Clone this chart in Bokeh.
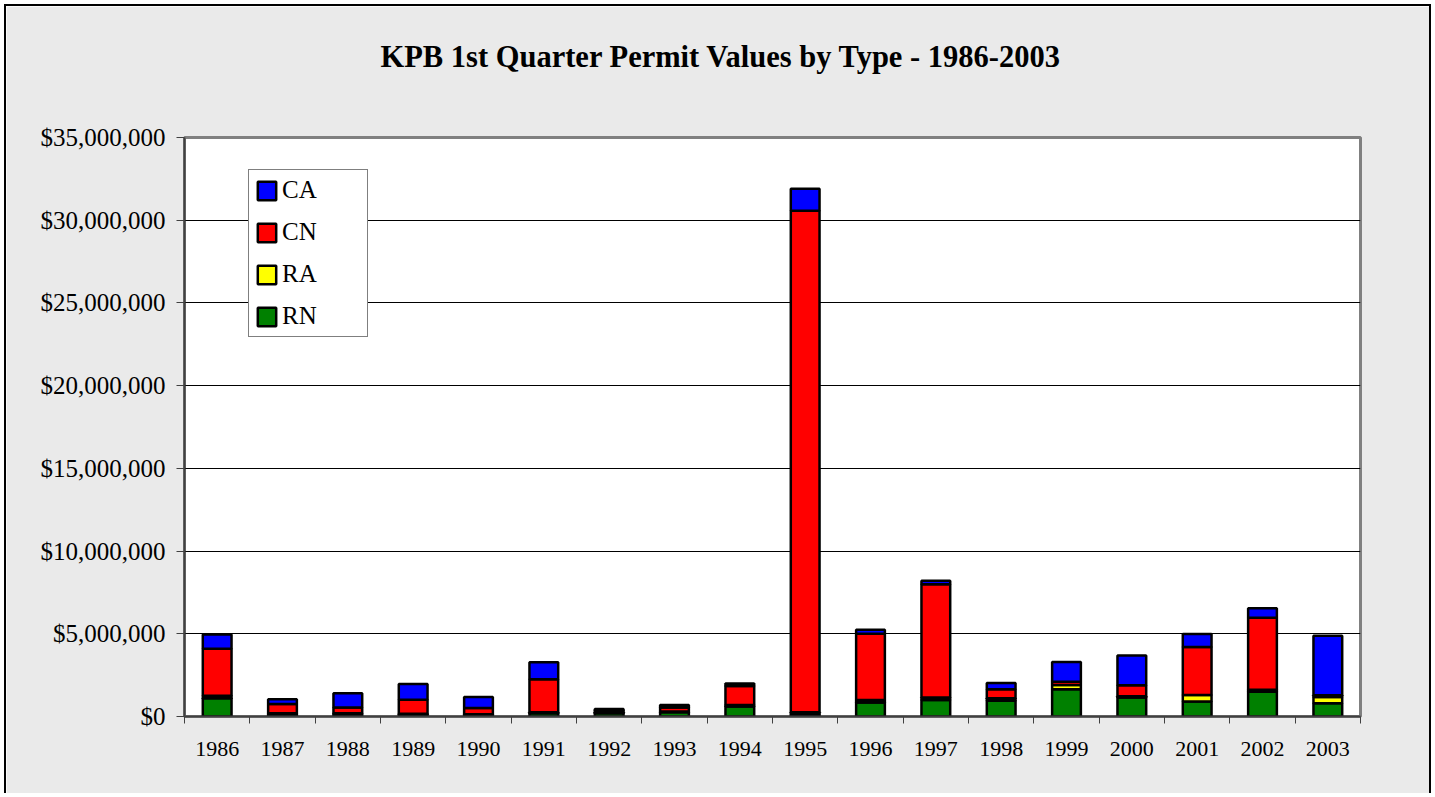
from bokeh.plotting import figure
from bokeh.models import (Range1d, FixedTicker, SingleIntervalTicker, NumeralTickFormatter,
                          Legend, LegendItem, Title, ColumnDataSource)
from bokeh.embed import file_html
from bokeh.resources import INLINE

years = [1986, 1987, 1988, 1989, 1990, 1991, 1992, 1993, 1994, 1995,
         1996, 1997, 1998, 1999, 2000, 2001, 2002, 2003]
RN = [1100000, 150000, 150000, 120000, 100000, 200000, 200000, 250000, 600000, 150000,
      850000, 1000000, 950000, 1650000, 1150000, 900000, 1500000, 800000]
RA = [150000, 50000, 50000, 50000, 30000, 50000, 50000, 50000, 100000, 100000,
      150000, 150000, 150000, 250000, 70000, 400000, 120000, 380000]
CN = [2850000, 550000, 350000, 850000, 380000, 2000000, 100000, 250000, 1150000, 30320000,
      4000000, 6850000, 550000, 200000, 670000, 2900000, 4350000, 100000]
CA = [850000, 300000, 850000, 950000, 670000, 1030000, 100000, 150000, 150000, 1330000,
      250000, 200000, 370000, 1200000, 1800000, 780000, 570000, 3600000]
series = ["RN", "RA", "CN", "CA"]
colors = ["#008000", "#FFFF00", "#FF0000", "#0000FF"]
title_text = "KPB 1st Quarter Permit Values by Type - 1986-2003"

xs = list(range(len(years)))
source = ColumnDataSource(dict(x=xs, RN=RN, RA=RA, CN=CN, CA=CA))

FONT = "Liberation Serif"

p = figure(width=1423, height=787,
           x_range=Range1d(-0.5, len(years) - 0.5), y_range=Range1d(0, 35000000),
           output_backend="svg", toolbar_location=None,
           min_border_left=178, min_border_right=73, min_border_top=131, min_border_bottom=79)
p.styles = {"border-top": "2px solid black", "border-left": "2px solid black",
            "border-right": "2px solid black", "margin-left": "4px", "margin-top": "4px",
            "box-sizing": "content-box"}

p.background_fill_color = "white"
p.border_fill_color = "#EAEAEA"
p.outline_line_color = "#808080"
p.outline_line_width = 3

renderers = p.vbar_stack(series, x="x", width=0.44, source=source, color=colors,
                         line_color="black", line_width=2.5)

# x axis
xa = p.xaxis[0]
xa.ticker = FixedTicker(ticks=xs, minor_ticks=[i - 0.5 for i in range(len(years) + 1)])
xa.major_label_overrides = {i: str(y) for i, y in zip(xs, years)}
xa.major_tick_out = 0
xa.major_tick_in = 0
xa.minor_tick_out = 7
xa.minor_tick_in = 0
xa.minor_tick_line_color = "#404040"
xa.minor_tick_line_width = 1
xa.axis_line_color = "#404040"
xa.axis_line_width = 2
xa.major_label_text_font = FONT
xa.major_label_text_font_size = "22px"
xa.major_label_text_color = "black"
xa.major_label_standoff = 18

# y axis
ya = p.yaxis[0]
ya.ticker = SingleIntervalTicker(interval=5000000, num_minor_ticks=0)
ya.formatter = NumeralTickFormatter(format="$0,0")
ya.major_tick_out = 8
ya.major_tick_in = 0
ya.major_tick_line_color = "#404040"
ya.minor_tick_line_color = None
ya.axis_line_color = "#404040"
ya.axis_line_width = 2
ya.major_label_text_font = FONT
ya.major_label_text_font_size = "25px"
ya.major_label_text_color = "black"
ya.major_label_standoff = 11

p.xgrid.visible = False
p.ygrid.grid_line_color = "black"
p.ygrid.grid_line_width = 1

items = [LegendItem(label=name, renderers=[r]) for name, r in zip(series, renderers)][::-1]
legend = Legend(items=items, location=(64, 379), orientation="vertical",
                border_line_color="black", border_line_width=1,
                background_fill_color="white", background_fill_alpha=1,
                label_text_font=FONT, label_text_font_size="25px", label_text_color="black",
                glyph_width=23, glyph_height=23, label_height=23, spacing=14,
                padding=6, label_standoff=4, label_width=79, margin=0)
p.add_layout(legend)

p.title = None
# spacer between title and plot area
spacer = Title(text=" ", text_font=FONT, text_font_size="30.5px", standoff=28)
p.add_layout(spacer, "above")
title = Title(text=title_text, text_font=FONT, text_font_style="bold",
              text_font_size="30.5px", text_color="black", align="left",
              offset=196, standoff=0)
p.add_layout(title, "above")

open("out.html", "w").write(file_html(p, INLINE))
